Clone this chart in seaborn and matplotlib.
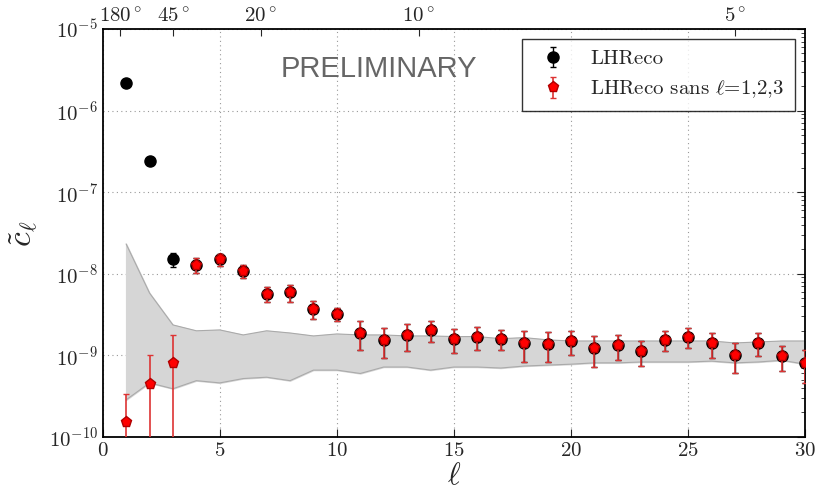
import numpy as np
import pandas as pd
import seaborn as sns
import matplotlib.pyplot as plt

# multipoles
ell = np.arange(1, 31)

# LHReco (all multipoles)
cl_full = [2.2e-6, 2.4e-7, 1.5e-8, 1.28e-8, 1.5e-8, 1.08e-8, 5.7e-9, 5.9e-9, 3.7e-9, 3.25e-9,
           1.9e-9, 1.55e-9, 1.78e-9, 2.05e-9, 1.6e-9, 1.7e-9, 1.6e-9, 1.41e-9, 1.38e-9, 1.5e-9,
           1.23e-9, 1.34e-9, 1.12e-9, 1.55e-9, 1.7e-9, 1.41e-9, 1.0e-9, 1.42e-9, 0.97e-9, 0.81e-9]
err_full = [0.0, 0.0, 3.0e-9, 2.6e-9, 2.7e-9, 2.0e-9, 1.2e-9, 1.4e-9, 0.9e-9, 0.6e-9,
            0.72e-9, 0.61e-9, 0.66e-9, 0.61e-9, 0.53e-9, 0.53e-9, 0.45e-9, 0.59e-9, 0.56e-9, 0.49e-9,
            0.51e-9, 0.46e-9, 0.37e-9, 0.42e-9, 0.47e-9, 0.47e-9, 0.40e-9, 0.45e-9, 0.33e-9, 0.35e-9]

# LHReco sans l=1,2,3
cl_sans = [1.53e-10, 4.47e-10, 8.1e-10] + cl_full[3:]
err_sans = [1.8e-10, 5.5e-10, 9.7e-10] + err_full[3:]

# grey band (isotropic expectation)
band_lo = [2.85e-10, 4.6e-10, 3.9e-10, 4.9e-10, 4.6e-10, 5.2e-10, 5.4e-10, 4.9e-10, 6.6e-10, 6.6e-10,
           6.0e-10, 7.2e-10, 7.2e-10, 6.6e-10, 7.2e-10, 7.2e-10, 7.0e-10, 7.4e-10, 7.6e-10, 7.8e-10,
           8.1e-10, 8.1e-10, 8.3e-10, 8.3e-10, 8.3e-10, 8.5e-10, 8.1e-10, 8.3e-10, 8.7e-10, 7.8e-10]
band_hi = [2.32e-8, 5.8e-9, 2.36e-9, 2.0e-9, 2.05e-9, 1.78e-9, 2.0e-9, 1.88e-9, 1.73e-9, 1.83e-9,
           1.78e-9, 1.78e-9, 1.73e-9, 1.73e-9, 1.7e-9, 1.7e-9, 1.6e-9, 1.65e-9, 1.55e-9, 1.5e-9,
           1.5e-9, 1.5e-9, 1.5e-9, 1.5e-9, 1.5e-9, 1.5e-9, 1.42e-9, 1.46e-9, 1.5e-9, 1.5e-9]

# top axis: angular scale
angles = [180, 45, 20, 10, 5]
angle_labels = [f"{a}$^\\circ$" for a in angles]

df = pd.DataFrame({"ell": ell, "lo": band_lo, "hi": band_hi})

sns.set_style("white")
plt.rcParams['font.family'] = 'serif'
plt.rcParams['font.serif'] = ['cmr10', 'DejaVu Serif']
plt.rcParams['mathtext.fontset'] = 'cm'
plt.rcParams['axes.formatter.use_mathtext'] = True
plt.rcParams['axes.unicode_minus'] = False

fig = plt.figure(figsize=(8.15, 4.98), dpi=100)
ax = fig.add_axes([0.126, 0.1225, 0.862, 0.8195])

ax.fill_between(df["ell"], df["lo"], df["hi"], color="#d6d6d6", zorder=1)
sns.lineplot(data=df, x="ell", y="lo", color="#aaaaaa", lw=0.8, ax=ax, zorder=2)
sns.lineplot(data=df, x="ell", y="hi", color="#aaaaaa", lw=0.8, ax=ax, zorder=2)

ax.errorbar(ell, cl_full, yerr=err_full, fmt="o", color="black", ecolor="black",
            ms=8, capsize=2.5, elinewidth=1, label="LHReco", zorder=3)
ax.errorbar(ell, cl_sans, yerr=err_sans, fmt="p", mfc="red", mec="#b00000", ecolor="#dd3333",
            ms=8, capsize=2.5, elinewidth=1.2, label="LHReco sans $\\ell$=1,2,3", zorder=4)

ax.set_yscale("log")
ax.set_xlim(0, 30)
ax.set_ylim(1e-10, 1e-5)
ax.set_xticks([0, 5, 10, 15, 20, 25, 30])
ax.grid(True, which="major", ls=(0, (1, 3)), color="#999999", lw=0.8)
for s in ax.spines.values():
    s.set_linewidth(1.3)
    s.set_color("black")
ax.tick_params(which="both", direction="in", right=True, labelsize=15)
ax.tick_params(which="major", length=6)
ax.tick_params(which="minor", length=3)
ax.set_xlabel("$\\ell$", fontsize=22, labelpad=2)
ax.set_ylabel("$\\tilde{c}_\\ell$", fontsize=24, labelpad=6)

ax.text(11.8, 3.2e-6, "PRELIMINARY", family="Liberation Sans", fontsize=21,
        color="#666666", ha="center", va="center")

leg = ax.legend(loc="upper right", numpoints=1, fancybox=False, fontsize=15,
                frameon=True, borderaxespad=0.5, handletextpad=0.8, borderpad=0.5)
leg.get_frame().set_edgecolor("black")
leg.get_frame().set_linewidth(1.0)

top = ax.twiny()
top.set_xlim(ax.get_xlim())
top.set_xticks([135.0 / a for a in angles])
top.set_xticklabels(angle_labels)
top.tick_params(direction="in", labelsize=15, length=5, pad=2)
for s in top.spines.values():
    s.set_visible(False)

fig.savefig("out.png", dpi=100)
